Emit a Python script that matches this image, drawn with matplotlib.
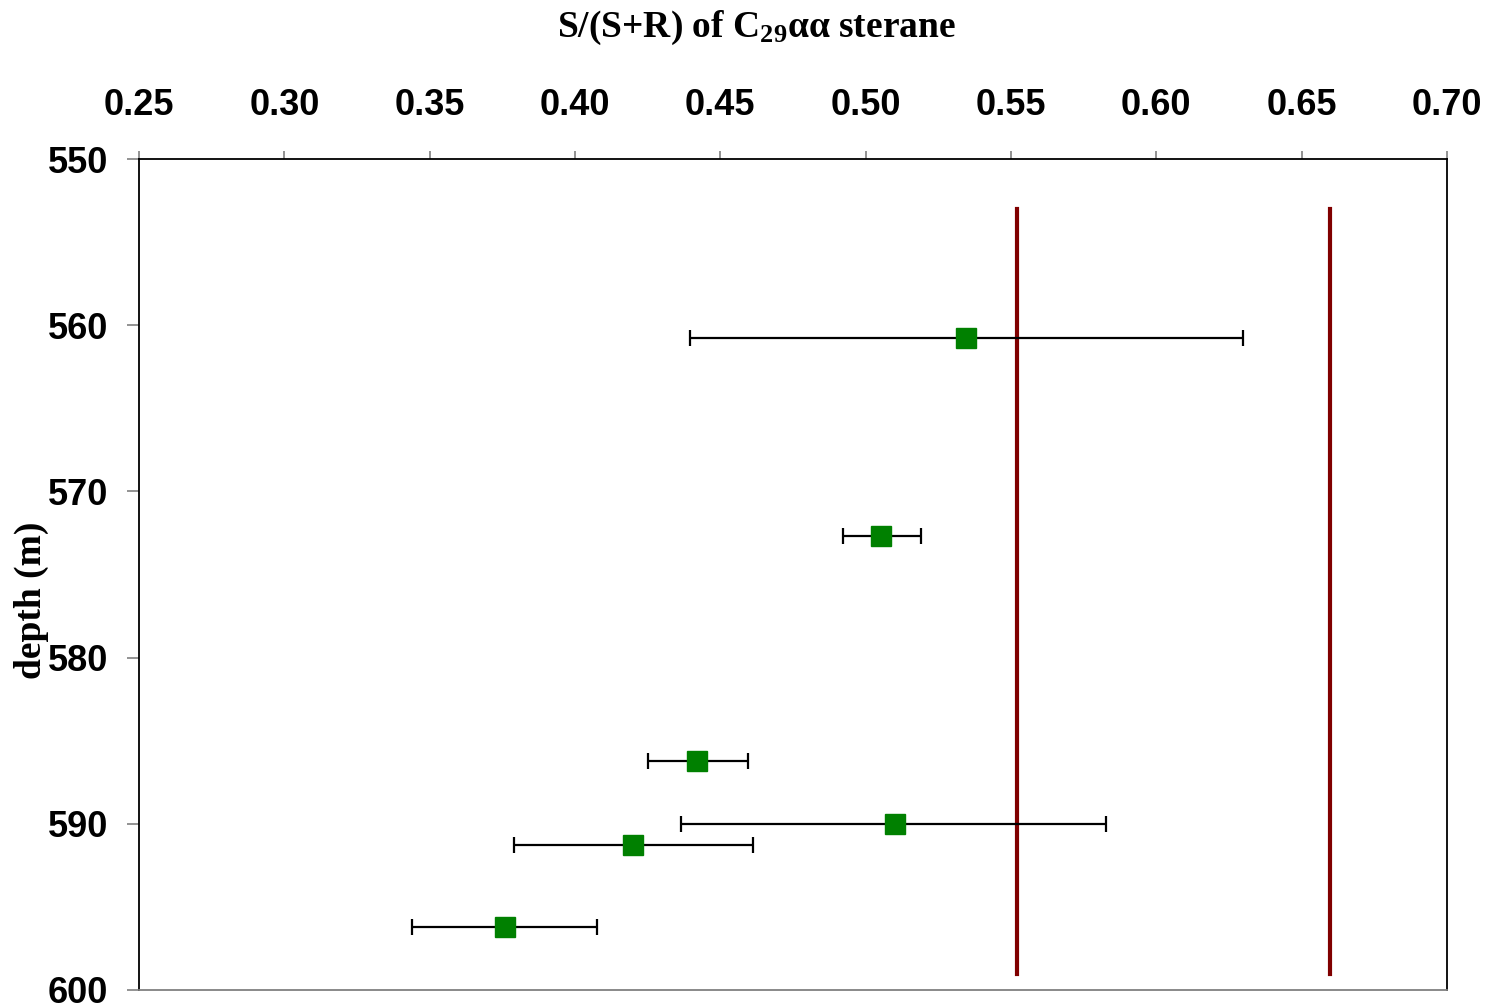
import numpy as np
import matplotlib.pyplot as plt

# sterane isomerisation ratio vs depth
ratio = [0.5345, 0.5053, 0.4420, 0.5101, 0.4200, 0.3759]
depth = [560.8, 572.7, 586.2, 590.0, 591.3, 596.2]
err_lo = [0.4396, 0.4922, 0.4251, 0.4365, 0.3790, 0.3439]
err_hi = [0.6298, 0.5190, 0.4595, 0.5827, 0.4612, 0.4076]

# equilibrium range markers
eq_lines = [0.552, 0.6598]
eq_top, eq_bottom = 553.0, 599.05

x_ticks = [0.25, 0.30, 0.35, 0.40, 0.45, 0.50, 0.55, 0.60, 0.65, 0.70]
y_ticks = [550, 560, 570, 580, 590, 600]

plt.rcParams['mathtext.fontset'] = 'custom'
plt.rcParams['mathtext.rm'] = 'Liberation Serif:bold'
plt.rcParams['mathtext.it'] = 'Liberation Serif:bold'
plt.rcParams['mathtext.bf'] = 'Liberation Serif:bold'

fig = plt.figure(figsize=(14.9, 10.07), dpi=100)
ax = fig.add_axes([0.0933, 0.0169, 0.8778, 0.8252])

xerr = [np.array(ratio) - np.array(err_lo), np.array(err_hi) - np.array(ratio)]
ax.errorbar(ratio, depth, xerr=xerr, fmt='none', ecolor='black', elinewidth=1.6,
            capsize=5.5, capthick=1.6, zorder=2)
ax.plot(ratio, depth, linestyle='none', marker='s', markersize=14.5,
        color='#008000', markeredgecolor='#008000', zorder=3)

for xv in eq_lines:
    ax.plot([xv, xv], [eq_top, eq_bottom], color='#800000', linewidth=3, zorder=1)

ax.set_xlim(0.25, 0.70)
ax.set_ylim(600, 550)
ax.xaxis.tick_top()
ax.xaxis.set_label_position('top')
ax.set_xticks(x_ticks)
ax.set_xticklabels([f'{v:.2f}' for v in x_ticks])
ax.set_yticks(y_ticks)

for lab in ax.get_xticklabels() + ax.get_yticklabels():
    lab.set_fontfamily('Liberation Sans')
    lab.set_fontweight('bold')
    lab.set_fontsize(26)

ax.tick_params(axis='x', direction='out', length=6, width=1.2, color='#808080', pad=20)
ax.tick_params(axis='y', direction='out', length=9, width=1.2, color='#808080', pad=13)

ax.spines['top'].set_color('black')
ax.spines['left'].set_color('black')
ax.spines['right'].set_color('black')
ax.spines['bottom'].set_color('#808080')
for s in ax.spines.values():
    s.set_linewidth(1.3)

ax.set_xlabel(r'S/(S+R) of C$_{29}$$\alpha\alpha$ sterane', fontfamily='Liberation Serif',
              fontweight='bold', fontsize=27, va='center')
ax.xaxis.set_label_coords(0.4717, 1.158)
ax.set_ylabel('depth (m)', fontfamily='Liberation Serif', fontweight='bold', fontsize=27,
              va='center')
ax.yaxis.set_label_coords(-0.082, 0.469)

fig.savefig('out.png', dpi=100)
